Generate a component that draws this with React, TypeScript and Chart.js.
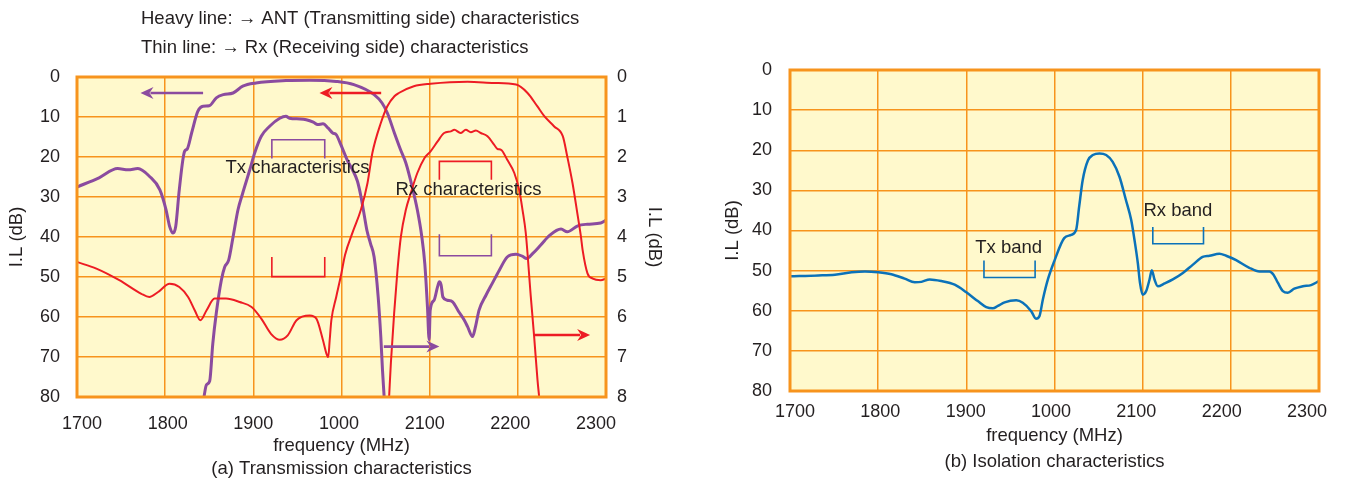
import React, { useEffect, useRef } from 'react';
import { Chart, registerables } from 'chart.js';

Chart.register(...registerables);

const FONT = "'Liberation Sans', Arial, Helvetica, sans-serif";
const TEXT = '#231f20';
const PURPLE = '#8b4b9f';
const RED = '#ed1c24';
const BLUE = '#0b72b9';
const BG = '#fff9cc';
const GRID = '#f7941d';

// x tick labels (as printed in the original figure)
const xTickLabels = ['1700', '1800', '1900', '1000', '2100', '2200', '2300'];

// (a) Heavy purple: ANT (Tx side) rejection, left axis (dB)
const txAntFreq = [1700, 1725, 1746, 1758, 1769, 1782, 1794, 1801, 1805, 1809, 1812, 1816, 1822, 1825, 1830, 1837, 1843, 1850, 1858, 1866, 1877, 1888, 1903, 1937, 1964, 1994, 2014, 2037, 2046, 2052, 2060, 2067, 2073, 2080, 2086, 2091, 2094.5, 2097.5, 2099.4, 2100.6, 2105, 2109, 2111, 2113, 2115, 2120, 2126, 2133, 2139, 2143, 2148.6, 2152, 2156, 2164, 2171, 2179, 2188, 2198, 2205, 2210, 2217, 2226, 2236, 2249, 2256, 2268, 2279, 2294, 2300];
const txAntIL = [27.5, 25.2, 22.9, 23.2, 22.9, 24.8, 28.2, 33.2, 37.3, 39, 37.3, 28.2, 18.6, 18, 14, 8.6, 7.3, 7.2, 5.2, 4.4, 4, 2.3, 1.5, 0.9, 0.8, 1.1, 1.9, 4.4, 6.5, 9, 14, 18.2, 21.5, 27.3, 33.2, 39.8, 46.7, 57.5, 65.7, 58.3, 55.8, 52.4, 51.2, 52, 55, 55.8, 56.2, 58.7, 60.7, 62.4, 64.9, 62.4, 58.3, 54.5, 51.6, 48.3, 45, 44.3, 44.8, 45.4, 44.1, 42, 39.6, 38, 38.7, 37.2, 36.8, 36.5, 35.8];

// (a) Purple: Tx passband, right axis (dB, 0-8)
const txPassFreq = [1844, 1846.7, 1850.5, 1854, 1858, 1863.7, 1867.5, 1872, 1877, 1882.6, 1888, 1896, 1901.5, 1909, 1918.5, 1930, 1937, 1941, 1953, 1960, 1968, 1973, 1979, 1985, 1990, 1994, 1999, 2007, 2012.5, 2018, 2022, 2026, 2029, 2033, 2037, 2041.6, 2044.6, 2046.5, 2048.4];
const txPassIL = [8.0, 7.7, 7.6, 6.67, 5.9, 5.08, 4.75, 4.58, 4.0, 3.32, 2.9, 2.32, 1.9, 1.48, 1.23, 1.03, 0.98, 1.03, 1.05, 1.07, 1.13, 1.19, 1.17, 1.28, 1.4, 1.44, 1.68, 2.1, 2.32, 2.6, 2.98, 3.48, 3.85, 4.17, 4.5, 5.5, 6.5, 7.33, 8.0];

// (a) Thin red: Rx side rejection, left axis (dB)
const rxRejFreq = [1700, 1722, 1748, 1773, 1782, 1792, 1805, 1816, 1826, 1833.5, 1840, 1847, 1856, 1869, 1884.5, 1898, 1909, 1920, 1930, 1939, 1949, 1964, 1971.5, 1979, 1983, 1985, 1986.6, 1988.5, 1994, 1999.5, 2004, 2013, 2022, 2029.5, 2035, 2044.6, 2052, 2060, 2065, 2082, 2101, 2143, 2173, 2198, 2211, 2222, 2230, 2241, 2251, 2256, 2262, 2268, 2271.5, 2273.5, 2279, 2285, 2294, 2300];
const rxRejIL = [46.25, 47.9, 50.8, 54.2, 55, 53.75, 51.7, 52.5, 55, 58.3, 60.8, 58.3, 55.4, 55.4, 56.25, 57.5, 60.4, 64.2, 65.7, 64.6, 60.8, 59.6, 60.4, 65.8, 69.2, 70, 65.8, 60.8, 55, 49.5, 44.5, 38.6, 33.2, 26.5, 19, 11.5, 7.3, 4.8, 4, 2.3, 1.7, 1.2, 1.5, 1.9, 4, 7.3, 9.8, 12.3, 14.8, 19.8, 26.5, 34.8, 39.8, 43.3, 49.1, 50.4, 50.8, 50.4];

// (a) Red: Rx passband, right axis (dB, 0-8)
const rxPassFreq = [2054, 2056, 2059.7, 2063.5, 2067.3, 2073, 2078.6, 2086, 2094, 2101, 2109, 2116.4, 2124, 2128, 2135, 2141, 2146.7, 2152.4, 2158, 2165.6, 2173, 2177, 2181, 2188, 2196, 2201.5, 2205.3, 2209, 2214.7, 2218.5, 2222.3, 2224.2];
const rxPassIL = [8.0, 7.15, 5.91, 4.83, 4.0, 3.32, 2.9, 2.4, 2.03, 1.86, 1.61, 1.4, 1.36, 1.32, 1.4, 1.32, 1.38, 1.34, 1.4, 1.48, 1.69, 1.8, 1.82, 2.07, 2.4, 2.82, 3.32, 3.9, 5.49, 6.49, 7.57, 8.0];

// (b) Isolation (dB)
const isoFreq = [1700, 1732, 1751, 1770, 1785, 1800, 1815, 1830, 1841.5, 1849, 1858.5, 1871.7, 1886.8, 1900, 1913, 1922.6, 1930, 1935.8, 1943.4, 1956.6, 1964, 1973.6, 1979, 1983, 1986.8, 1992.5, 2000, 2011, 2019, 2024.6, 2028, 2032, 2038, 2043.5, 2051, 2058.6, 2066, 2073.7, 2081, 2087, 2090.7, 2094.5, 2097, 2100, 2104, 2107.8, 2110.4, 2113.4, 2117.2, 2124.8, 2134.2, 2145.6, 2157, 2168, 2175.8, 2187, 2194.7, 2206, 2221, 2232.5, 2243.8, 2248.4, 2253.3, 2259, 2264.6, 2272, 2281.7, 2291, 2300];
const isoIL = [51.4, 51.2, 51, 50.4, 50.2, 50.4, 50.9, 52, 52.9, 52.8, 52.2, 52.6, 53.5, 55.4, 57.6, 59.1, 59.4, 58.8, 57.9, 57.4, 58, 60.1, 62, 61.3, 57.2, 52.2, 47.5, 41.9, 41.1, 39.8, 34, 27.4, 22.5, 21.2, 20.8, 21.2, 22.9, 26.6, 32.4, 37.4, 42.3, 48.1, 53.1, 56, 55.1, 52.2, 49.9, 52.2, 53.9, 53.2, 52.2, 50.6, 48.5, 46.6, 46.3, 45.8, 46.3, 47.4, 49.3, 50.2, 50.2, 51, 53, 55.1, 55.5, 54.5, 53.9, 53.6, 52.6];

const pts = (xs: number[], ys: number[]) => xs.map((x, i) => ({ x, y: ys[i] }));

type Arrow = { from: number; to: number; y: number; color: string };
type Bracket = { x1: number; x2: number; yEdge: number; yOpen: number; color: string };
type Label = { text: string; x: number; y: number };

const LABEL_SIZE = 18.5;
const TICK_SIZE = 18;

const bgPlugin = {
  id: 'bgFrame',
  beforeDraw(chart: any) {
    const { ctx, chartArea: a } = chart;
    ctx.save();
    ctx.fillStyle = BG;
    ctx.fillRect(a.left, a.top, a.right - a.left, a.bottom - a.top);
    ctx.restore();
  },
  afterDatasetsDraw(chart: any) {
    const { ctx, chartArea: a } = chart;
    ctx.save();
    ctx.strokeStyle = GRID;
    ctx.lineWidth = 3;
    ctx.strokeRect(a.left, a.top, a.right - a.left, a.bottom - a.top);
    ctx.restore();
  },
};

function notesPlugin(labels: Label[], brackets: Bracket[], arrows: Arrow[], header: string[]) {
  return {
    id: 'notes',
    afterDraw(chart: any) {
      const { ctx } = chart;
      const xs = chart.scales.x;
      const ys = chart.scales.y;
      ctx.save();
      ctx.lineCap = 'butt';
      brackets.forEach((b) => {
        const x1 = xs.getPixelForValue(b.x1);
        const x2 = xs.getPixelForValue(b.x2);
        const ye = ys.getPixelForValue(b.yEdge);
        const yo = ys.getPixelForValue(b.yOpen);
        ctx.strokeStyle = b.color;
        ctx.lineWidth = 1.6;
        ctx.beginPath();
        ctx.moveTo(x1, yo);
        ctx.lineTo(x1, ye);
        ctx.lineTo(x2, ye);
        ctx.lineTo(x2, yo);
        ctx.stroke();
      });
      arrows.forEach((ar) => {
        const xf = xs.getPixelForValue(ar.from);
        const xt = xs.getPixelForValue(ar.to);
        const y = ys.getPixelForValue(ar.y);
        const dir = xt > xf ? 1 : -1;
        const head = 13;
        ctx.strokeStyle = ar.color;
        ctx.fillStyle = ar.color;
        ctx.lineWidth = 2.6;
        ctx.beginPath();
        ctx.moveTo(xf, y);
        ctx.lineTo(xt - dir * (head - 3), y);
        ctx.stroke();
        ctx.beginPath();
        ctx.moveTo(xt, y);
        ctx.lineTo(xt - dir * head, y - 6);
        ctx.lineTo(xt - dir * (head - 4), y);
        ctx.lineTo(xt - dir * head, y + 6);
        ctx.closePath();
        ctx.fill();
      });
      ctx.fillStyle = TEXT;
      ctx.font = `${LABEL_SIZE}px ${FONT}`;
      ctx.textAlign = 'center';
      ctx.textBaseline = 'middle';
      labels.forEach((l) => {
        ctx.fillText(l.text, xs.getPixelForValue(l.x), ys.getPixelForValue(l.y));
      });
      ctx.textAlign = 'left';
      header.forEach((h, i) => {
        ctx.fillText(h, 141, 19 + i * 29);
      });
      ctx.restore();
    },
  };
}

const leftLabels: Label[] = [
  { text: 'Tx characteristics', x: 1950, y: 22.7 },
  { text: 'Rx characteristics', x: 2144, y: 28.2 },
];
const leftBrackets: Bracket[] = [
  { x1: 1921, x2: 1981, yEdge: 15.7, yOpen: 20.4, color: PURPLE },
  { x1: 1921, x2: 1981, yEdge: 49.9, yOpen: 45, color: RED },
  { x1: 2111, x2: 2170, yEdge: 21.1, yOpen: 25.7, color: RED },
  { x1: 2111, x2: 2170, yEdge: 44.7, yOpen: 39.3, color: PURPLE },
];
const leftArrows: Arrow[] = [
  { from: 1843, to: 1772, y: 4, color: PURPLE },
  { from: 2045, to: 1975, y: 4, color: RED },
  { from: 2048, to: 2111, y: 67.4, color: PURPLE },
  { from: 2219, to: 2282, y: 64.5, color: RED },
];
const headerLines = [
  'Heavy line: \u2192 ANT (Transmitting side) characteristics',
  'Thin line: \u2192 Rx (Receiving side) characteristics',
];

const rightLabels: Label[] = [
  { text: 'Tx band', x: 1948, y: 44.4 },
  { text: 'Rx band', x: 2140, y: 35.2 },
];
const rightBrackets: Bracket[] = [
  { x1: 1920, x2: 1978, yEdge: 51.7, yOpen: 47.5, color: BLUE },
  { x1: 2111.5, x2: 2169, yEdge: 43.3, yOpen: 39.1, color: BLUE },
];

const tickFont = { family: FONT, size: TICK_SIZE };
const titleFont = { family: FONT, size: LABEL_SIZE };
const xTickCb = (v: any) => xTickLabels[Math.round((Number(v) - 1700) / 100)];

// grid-only frequency axis (labels are printed by the label axis below it)
const gridX = () => ({
  type: 'linear', position: 'bottom', min: 1700, max: 2300,
  ticks: { display: false, stepSize: 100 },
  grid: { color: GRID, lineWidth: 1.5, drawTicks: false },
  border: { display: false },
  afterFit: (s: any) => { s.height = 0; },
});

// label axis: the printed labels in the original sit slightly inside the grid lines
const labelX = (min: number, max: number, pad: number, height: number, title: string[], lh: number, pb: number) => ({
  type: 'linear', position: 'bottom', min, max,
  ticks: { stepSize: 100, includeBounds: false, callback: xTickCb, font: tickFont, color: TEXT, padding: pad, maxRotation: 0, autoSkip: false },
  grid: { display: false, drawTicks: false },
  border: { display: false },
  title: { display: true, text: title, color: TEXT, font: { family: FONT, size: LABEL_SIZE, lineHeight: lh }, padding: { top: 0, bottom: pb } },
  afterFit: (s: any) => { s.height = height; },
});

function LeftChart() {
  const ref = useRef<HTMLCanvasElement>(null);
  useEffect(() => {
    const line = (data: any, axis: string, color: string, w: number) => ({
      data, xAxisID: 'x', yAxisID: axis, borderColor: color, borderWidth: w, pointRadius: 0,
      cubicInterpolationMode: 'monotone', fill: false,
    });
    const chart = new Chart(ref.current as HTMLCanvasElement, {
      type: 'line',
      data: {
        datasets: [
          line(pts(rxRejFreq, rxRejIL), 'y', RED, 2),
          line(pts(rxPassFreq, rxPassIL), 'y2', RED, 2),
          line(pts(txAntFreq, txAntIL), 'y', PURPLE, 3),
          line(pts(txPassFreq, txPassIL), 'y2', PURPLE, 3),
        ] as any,
      },
      options: {
        animation: false,
        responsive: false,
        devicePixelRatio: 1,
        layout: { padding: { top: 77, left: 0, right: 0, bottom: 0 } },
        plugins: { legend: { display: false }, tooltip: { enabled: false } },
        scales: {
          x: gridX(),
          xl: labelX(1694.16, 2311.67, 16, 85, ['frequency (MHz)', '(a) Transmission characteristics'], 1.27, 1.2),
          y: {
            position: 'left', min: 0, max: 80, reverse: true,
            ticks: { stepSize: 10, font: tickFont, color: TEXT, padding: 17 },
            grid: { color: GRID, lineWidth: 1.5, drawTicks: false },
            border: { display: false },
            title: { display: true, text: 'I.L (dB)', color: TEXT, font: titleFont, padding: { top: 5.9, bottom: 0 } },
            afterFit: (s: any) => { s.width = 77; },
          },
          y2: {
            position: 'right', min: 0, max: 8, reverse: true,
            ticks: { stepSize: 1, font: tickFont, color: TEXT, padding: 11 },
            grid: { drawOnChartArea: false, drawTicks: false },
            border: { display: false },
            title: { display: true, text: 'I.L (dB)', color: TEXT, font: titleFont, padding: { top: 14.9, bottom: 0 } },
            afterFit: (s: any) => { s.width = 74; },
          },
        },
      } as any,
      plugins: [bgPlugin, notesPlugin(leftLabels, leftBrackets, leftArrows, headerLines)],
    });
    return () => chart.destroy();
  }, []);
  return <canvas ref={ref} width={680} height={482} style={{ position: 'absolute', left: 0, top: 0, width: 680, height: 482 }} />;
}

function RightChart() {
  const ref = useRef<HTMLCanvasElement>(null);
  useEffect(() => {
    const chart = new Chart(ref.current as HTMLCanvasElement, {
      type: 'line',
      data: {
        datasets: [
          {
            data: pts(isoFreq, isoIL), xAxisID: 'x', yAxisID: 'y', borderColor: BLUE, borderWidth: 2.5, pointRadius: 0,
            cubicInterpolationMode: 'monotone', fill: false,
          },
        ] as any,
      },
      options: {
        animation: false,
        responsive: false,
        devicePixelRatio: 1,
        layout: { padding: { top: 70, left: 0, right: 29, bottom: 0 } },
        plugins: { legend: { display: false }, tooltip: { enabled: false } },
        scales: {
          x: gridX(),
          xl: labelX(1694.14, 2314.06, 10, 91, ['frequency (MHz)', '(b) Isolation characteristics'], 1.405, 7.5),
          y: {
            position: 'left', min: 0, max: 80, reverse: true,
            ticks: { stepSize: 10, font: tickFont, color: TEXT, padding: 18 },
            grid: { color: GRID, lineWidth: 1.5, drawTicks: false },
            border: { display: false },
            title: { display: true, text: 'I.L (dB)', color: TEXT, font: titleFont, padding: { top: 41.9, bottom: 0 } },
            afterFit: (s: any) => { s.width = 110; },
          },
        },
      } as any,
      plugins: [bgPlugin, notesPlugin(rightLabels, rightBrackets, [], [])],
    });
    return () => chart.destroy();
  }, []);
  return <canvas ref={ref} width={668} height={482} style={{ position: 'absolute', left: 680, top: 0, width: 668, height: 482 }} />;
}

export default function App() {
  return (
    <div style={{ position: 'absolute', left: 0, top: 0, width: 1348, height: 482, background: '#fff', overflow: 'hidden' }}>
      <LeftChart />
      <RightChart />
    </div>
  );
}
